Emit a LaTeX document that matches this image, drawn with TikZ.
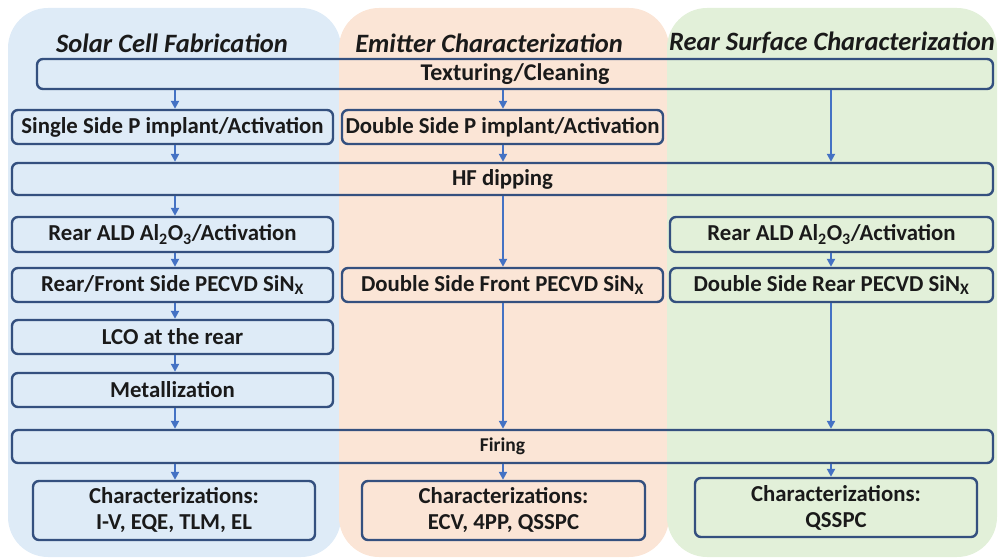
\documentclass[tikz,border=0pt]{standalone}
\usepackage{fontspec}
\setmainfont{Carlito}
\usetikzlibrary{arrows.meta}
\definecolor{pblue}{HTML}{DEEBF7}
\definecolor{porange}{HTML}{FBE5D6}
\definecolor{pgreen}{HTML}{E2F0D9}
\definecolor{boxline}{HTML}{34507F}
\definecolor{arrowc}{HTML}{4472C4}
\definecolor{txt}{HTML}{1A1A1A}
\tikzset{
  panel/.style={rounded corners=40pt, draw=none},
  stepbox/.style={draw=boxline, line width=2.4pt, rounded corners=6pt, inner sep=0pt,
    font=\fontsize{22.8}{26}\selectfont\bfseries, text=txt, align=center},
  ttl/.style={font=\fontsize{26.5}{28}\selectfont\bfseries\itshape, text=txt, inner sep=0pt},
  arr/.style={draw=arrowc, line width=2pt, -{Triangle[length=8pt,width=8pt]}},
}
\begin{document}
\begin{tikzpicture}[x=1pt,y=-1pt]
\useasboundingbox (0,0) rectangle (1002,559);
% panels
\fill[pblue, panel] (8,8) rectangle (341,557);
\fill[porange, panel] (339,8) rectangle (669,557);
\fill[pgreen, panel] (667,8) rectangle (997,557);
% titles
\node[ttl] (t1) at (172,43) {Solar Cell Fabrication};
\node[ttl] (t2) at (489,43) {Emitter Characterization};
\node[ttl] (t3) at (832,43) {Rear Surface Characterization};
% column x coordinates
\coordinate (cL) at (175,0);
\coordinate (cM) at (503,0);
\coordinate (cR) at (831,0);
% boxes
\node[stepbox, minimum width=956pt, minimum height=30pt, font=\fontsize{24}{26}\selectfont\bfseries] (tex) at (515,74) {Texturing/Cleaning};
\node[stepbox, minimum width=321pt, minimum height=34pt] (s1) at (172.5,127) {Single Side P implant/Activation};
\node[stepbox, minimum width=321pt, minimum height=34pt] (d1) at (502.5,127) {Double Side P implant/Activation};
\node[stepbox, minimum width=981pt, minimum height=32pt] (hf) at (502.5,179) {HF dipping};
\node[stepbox, minimum width=321pt, minimum height=35pt] (aldL) at (172.5,234.5) {Rear ALD Al\textsubscript{2}O\textsubscript{3}/Activation};
\node[stepbox, minimum width=323pt, minimum height=35pt] (aldR) at (831.5,234.5) {Rear ALD Al\textsubscript{2}O\textsubscript{3}/Activation};
\node[stepbox, minimum width=321pt, minimum height=34pt] (peL) at (172.5,285) {Rear/Front Side PECVD SiN\textsubscript{X}};
\node[stepbox, minimum width=321pt, minimum height=34pt] (peM) at (502.5,285) {Double Side Front PECVD SiN\textsubscript{X}};
\node[stepbox, minimum width=323pt, minimum height=34pt] (peR) at (831.5,285) {Double Side Rear PECVD SiN\textsubscript{X}};
\node[stepbox, minimum width=321pt, minimum height=34pt] (lco) at (172.5,337) {LCO at the rear};
\node[stepbox, minimum width=321pt, minimum height=34pt] (met) at (172.5,390) {Metallization};
\node[stepbox, minimum width=981pt, minimum height=33pt, font=\fontsize{19.5}{21}\selectfont\bfseries] (fir) at (502.5,446.5) {Firing};
\node[stepbox, minimum width=282pt, minimum height=59pt] (chL) at (174,510.5) {Characterizations:\\I-V, EQE, TLM, EL};
\node[stepbox, minimum width=283pt, minimum height=59pt] (chM) at (503.5,510.5) {Characterizations:\\ECV, 4PP, QSSPC};
\node[stepbox, minimum width=282pt, minimum height=59pt] (chR) at (836,507.5) {Characterizations:\\QSSPC};
% arrows
\draw[arr] (tex.south -| cL) -- (s1.north -| cL);
\draw[arr] (tex.south -| cM) -- (d1.north -| cM);
\draw[arr] (tex.south -| cR) -- (hf.north -| cR);
\draw[arr] (s1.south -| cL) -- (hf.north -| cL);
\draw[arr] (d1.south -| cM) -- (hf.north -| cM);
\draw[arr] (hf.south -| cL) -- (aldL.north -| cL);
\draw[arr] (hf.south -| cM) -- (peM.north -| cM);
\draw[arr] (aldL.south -| cL) -- (peL.north -| cL);
\draw[arr] (aldR.south -| cR) -- (peR.north -| cR);
\draw[arr] (peL.south -| cL) -- (lco.north -| cL);
\draw[arr] (lco.south -| cL) -- (met.north -| cL);
\draw[arr] (met.south -| cL) -- (fir.north -| cL);
\draw[arr] (peM.south -| cM) -- (fir.north -| cM);
\draw[arr] (peR.south -| cR) -- (fir.north -| cR);
\draw[arr] (fir.south -| cL) -- (chL.north -| cL);
\draw[arr] (fir.south -| cM) -- (chM.north -| cM);
\draw[arr] (fir.south -| cR) -- (chR.north -| cR);
\end{tikzpicture}
\end{document}
